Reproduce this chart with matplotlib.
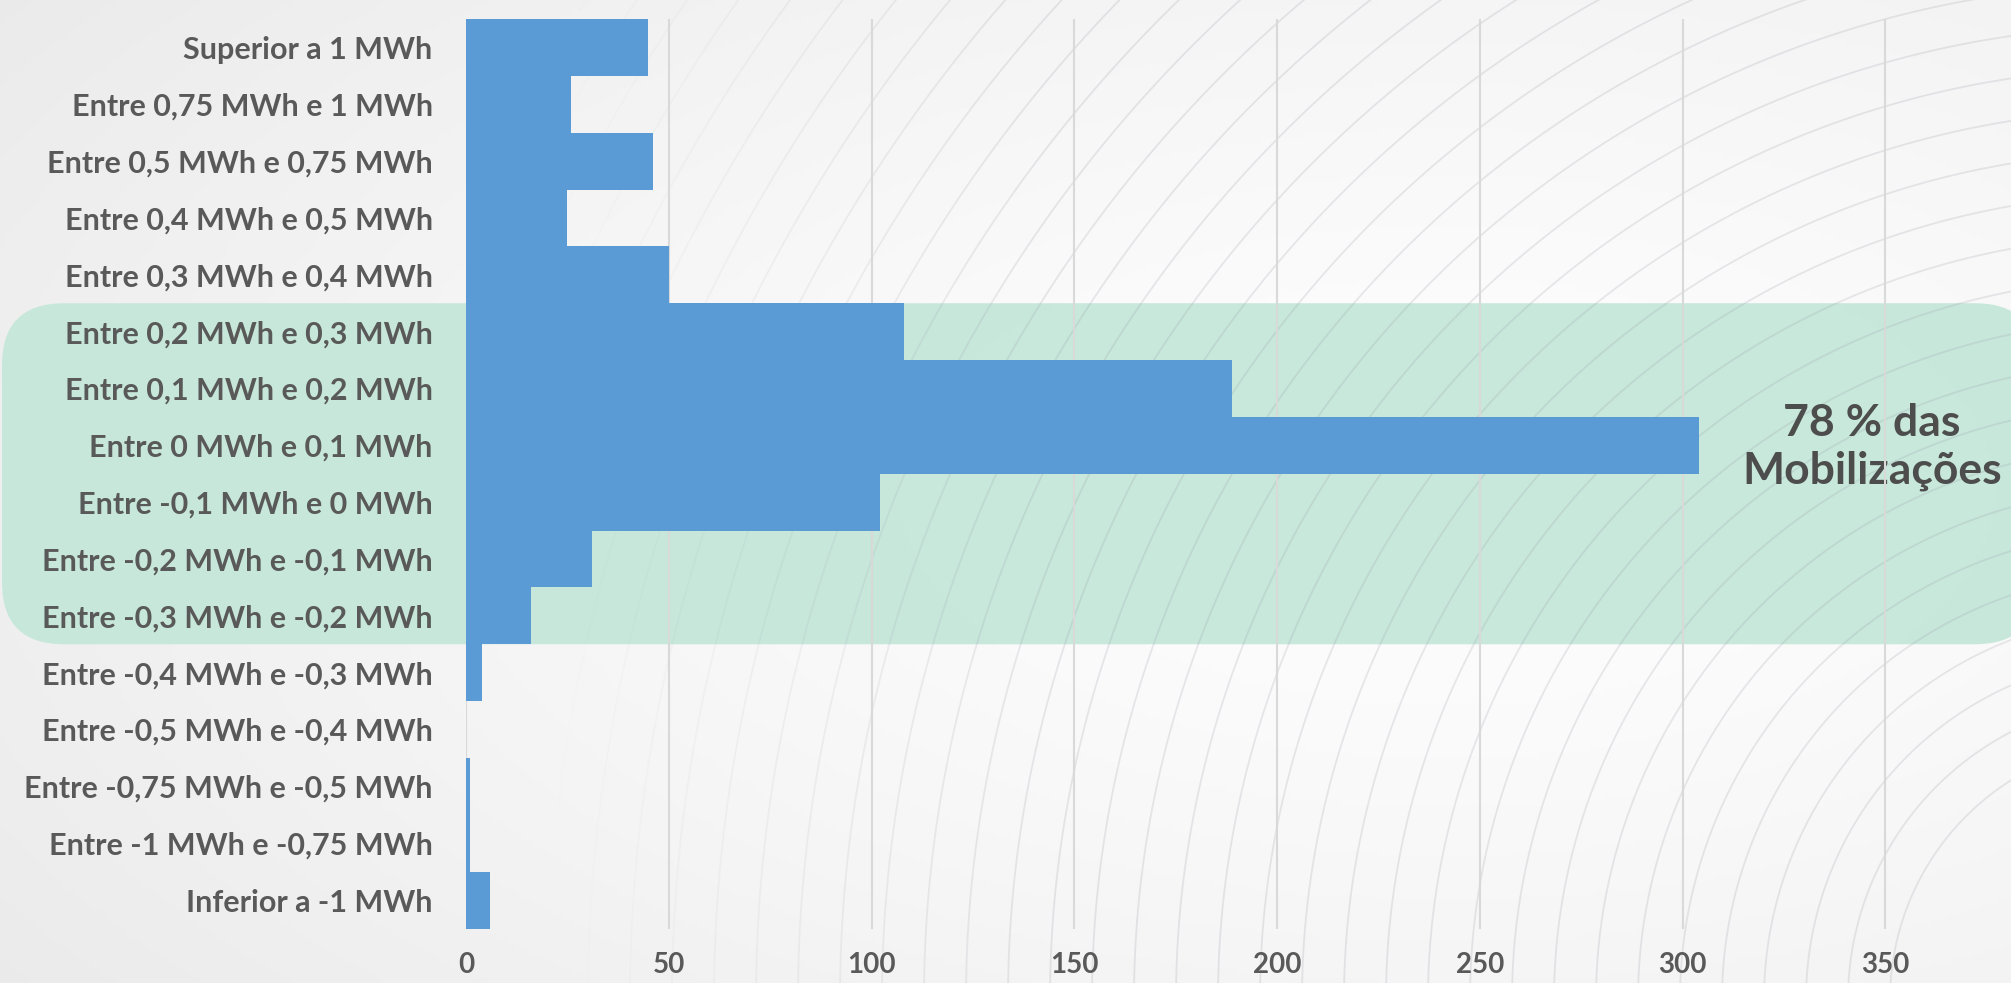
import numpy as np
import matplotlib
matplotlib.use("Agg")
import matplotlib.pyplot as plt
from matplotlib.patches import FancyBboxPatch
from matplotlib.collections import LineCollection

# dados: número de mobilizações por classe de energia (de cima para baixo)
categorias = [
    "Superior a 1 MWh",
    "Entre 0,75 MWh e 1 MWh",
    "Entre 0,5 MWh e 0,75 MWh",
    "Entre 0,4 MWh e 0,5 MWh",
    "Entre 0,3 MWh e 0,4 MWh",
    "Entre 0,2 MWh e 0,3 MWh",
    "Entre 0,1 MWh e 0,2 MWh",
    "Entre 0 MWh e 0,1 MWh",
    "Entre -0,1 MWh e 0 MWh",
    "Entre -0,2 MWh e -0,1 MWh",
    "Entre -0,3 MWh e -0,2 MWh",
    "Entre -0,4 MWh e -0,3 MWh",
    "Entre -0,5 MWh e -0,4 MWh",
    "Entre -0,75 MWh e -0,5 MWh",
    "Entre -1 MWh e -0,75 MWh",
    "Inferior a -1 MWh",
]
mobilizacoes = [45, 26, 46, 25, 50, 108, 189, 304, 102, 31, 16, 4, 0, 1, 1, 6]
destaque = ["Entre 0,2 MWh e 0,3 MWh", "Entre -0,3 MWh e -0,2 MWh"]
texto_destaque = "78 % das\nMobilizações"
ticks_x = [0, 50, 100, 150, 200, 250, 300, 350]

W, H = 2011, 983
plt.rcParams['font.family'] = ['Lato', 'DejaVu Sans']
fig = plt.figure(figsize=(W / 100, H / 100), dpi=100)

# fundo em pixels
bg = fig.add_axes([0, 0, 1, 1], zorder=0)
bg.set_xlim(0, W)
bg.set_ylim(0, H)
bg.axis('off')
gx, gy = np.meshgrid(np.linspace(0, 1, 400), np.linspace(0, 1, 200))
r = np.sqrt((gx - 0.72) ** 2 + (gy - 0.5) ** 2)
cinza = 0.995 - 0.09 * r ** 1.4
bg.imshow(np.dstack([cinza, cinza, cinza]), extent=(0, W, 0, H), origin='lower',
          aspect='auto', zorder=0)

# eixo principal
esq, topo, base = 466, 19, 928.5
ax = fig.add_axes([esq / W, (H - base) / H, 1 - esq / W, (base - topo) / H], zorder=1)
ax.patch.set_alpha(0)
y = np.arange(len(categorias))
ax.barh(y, mobilizacoes, height=1.0, color='#5B9BD5', zorder=2)
ax.set_ylim(len(categorias) - 0.5, -0.5)
ax.set_xlim(0, 381)
ax.set_yticks(y)
ax.set_yticklabels(categorias, fontsize=22, fontweight='bold', color='#595959')
ax.set_xticks(ticks_x)
ax.set_xticklabels([str(t) for t in ticks_x], fontsize=20, fontweight='bold', color='#595959')
ax.tick_params(axis='y', length=0, pad=24)
ax.tick_params(axis='x', length=0, pad=17)
ax.grid(axis='x', color='#D9D9D9', lw=1.5)
ax.set_axisbelow(True)
for s in ax.spines.values():
    s.set_visible(False)

# caixa verde em pixels, alinhada com as linhas destacadas
i0 = categorias.index(destaque[0])
i1 = categorias.index(destaque[1])
to_bg = bg.transData.inverted()
_, y_top = to_bg.transform(ax.transData.transform((0, i0 - 0.5)))
_, y_bot = to_bg.transform(ax.transData.transform((0, i1 + 0.5)))
caixa = FancyBboxPatch((2, y_bot), 2035, y_top - y_bot,
                       boxstyle="round,pad=0,rounding_size=62",
                       facecolor='#C5E7DA', edgecolor='none', alpha=0.95, zorder=1)
bg.add_patch(caixa)

# linhas curvas decorativas do fundo
cx, cy = 2150, -17
linhas, alfas = [], []
for raio in np.arange(260, 1950, 42):
    t = np.linspace(np.pi / 2, np.pi, 300)
    xs = cx + raio * np.cos(t)
    ys = cy + raio * np.sin(t)
    pts = np.column_stack([xs, ys])
    segs = np.stack([pts[:-1], pts[1:]], axis=1)
    linhas.extend(segs)
    alfas.extend(np.clip((xs[:-1] - 550) / 500, 0, 1) * 0.22)
cores = [(0.62, 0.62, 0.68, a) for a in alfas]
bg.add_collection(LineCollection(linhas, colors=cores, linewidths=1.3, zorder=2))

bg.text(1872, 536, texto_destaque, ha='center', va='center', fontsize=32,
        fontweight='bold', color='#4D4D4D', linespacing=1.22, zorder=3)

fig.savefig("out.png", dpi=100)
